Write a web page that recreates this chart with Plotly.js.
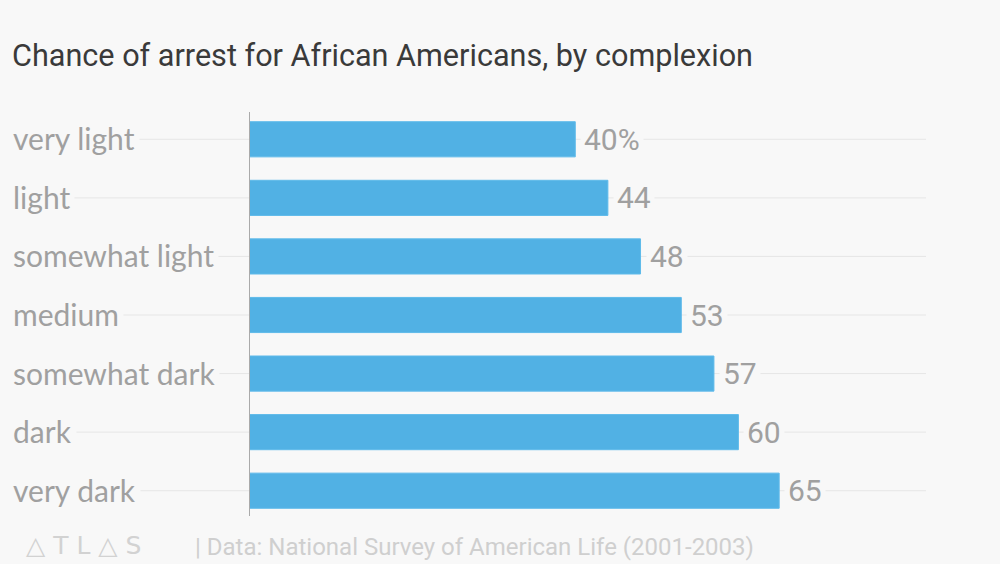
<!DOCTYPE html>
<html>
<head>
<meta charset="utf-8">
<script src="https://cdn.plot.ly/plotly-3.0.1.min.js"></script>
<style>html,body{margin:0;padding:0;background:#f8f8f8;}#chart{width:1000px;height:564px;}</style>
</head>
<body>
<div id="chart"></div>
<script>
const categories = ["very light", "light", "somewhat light", "medium", "somewhat dark", "dark", "very dark"];
const values = [40, 44, 48, 53, 57, 60, 65];
const valueLabels = ["40%", "44", "48", "53", "57", "60", "65"];

const bg = "#f8f8f8";
const annotations = [];
const shapes = [];
categories.forEach((c, i) => {
  shapes.push({type: "line", xref: "paper", yref: "y", x0: 0, x1: 1, y0: c, y1: c,
    line: {color: "#e6e6e6", width: 1}, layer: "below"});
  annotations.push({xref: "paper", yref: "y", x: 0, y: c, xanchor: "left", yanchor: "middle",
    text: c, showarrow: false, bgcolor: bg, borderpad: 4, xshift: -4, yshift: 1,
    font: {family: "Lato, 'Open Sans', sans-serif", size: 30, color: "#a0a0a0"}});
  annotations.push({xref: "x", yref: "y", x: values[i], y: c, xanchor: "left", yanchor: "middle",
    text: valueLabels[i], showarrow: false, bgcolor: bg, borderpad: 3, xshift: 5,
    font: {family: "Roboto, sans-serif", size: 30, color: "#a0a0a0"}});
});
annotations.push({xref: "paper", yref: "paper", x: 0.013, y: -0.061, xanchor: "left", yanchor: "middle",
  text: "△ T L △ S", showarrow: false,
  font: {family: "'DejaVu Sans', sans-serif", size: 25, color: "#d2d2d2"}});
annotations.push({xref: "paper", yref: "paper", x: 0.198, y: -0.066, xanchor: "left", yanchor: "middle",
  text: "| Data: National Survey of American Life (2001-2003)", showarrow: false,
  font: {family: "Roboto, sans-serif", size: 24, color: "#cfcfcf"}});

const trace = {
  type: "bar", orientation: "h", x: values, y: categories,
  marker: {color: "#51b1e4", line: {color: "#5fbaea", width: 1}},
  width: 0.6, hoverinfo: "none"
};

const layout = {
  width: 1000, height: 564,
  paper_bgcolor: bg, plot_bgcolor: bg,
  margin: {l: 12, r: 74, t: 110, b: 44},
  title: {text: "Chance of arrest for African Americans, by complexion", x: 0.012, xanchor: "left",
    y: 0.902, yanchor: "middle",
    font: {family: "Roboto, sans-serif", size: 30.6, color: "#3a3a3a"}},
  xaxis: {domain: [237/914, 1], range: [0, 83], showgrid: false, zeroline: false,
    showticklabels: false, ticks: "", showline: false, fixedrange: true},
  yaxis: {autorange: "reversed", showticklabels: false, showgrid: false, zeroline: false,
    ticks: "", showline: false, fixedrange: true},
  shapes: shapes.concat([{type: "line", xref: "x", yref: "paper", x0: 0, x1: 0, y0: 0.01, y1: 0.995,
    line: {color: "#aaaaaa", width: 2}}]),
  annotations: annotations,
  showlegend: false, bargap: 0.4
};

Plotly.newPlot("chart", [trace], layout, {displayModeBar: false, staticPlot: true});
</script>
</body>
</html>
